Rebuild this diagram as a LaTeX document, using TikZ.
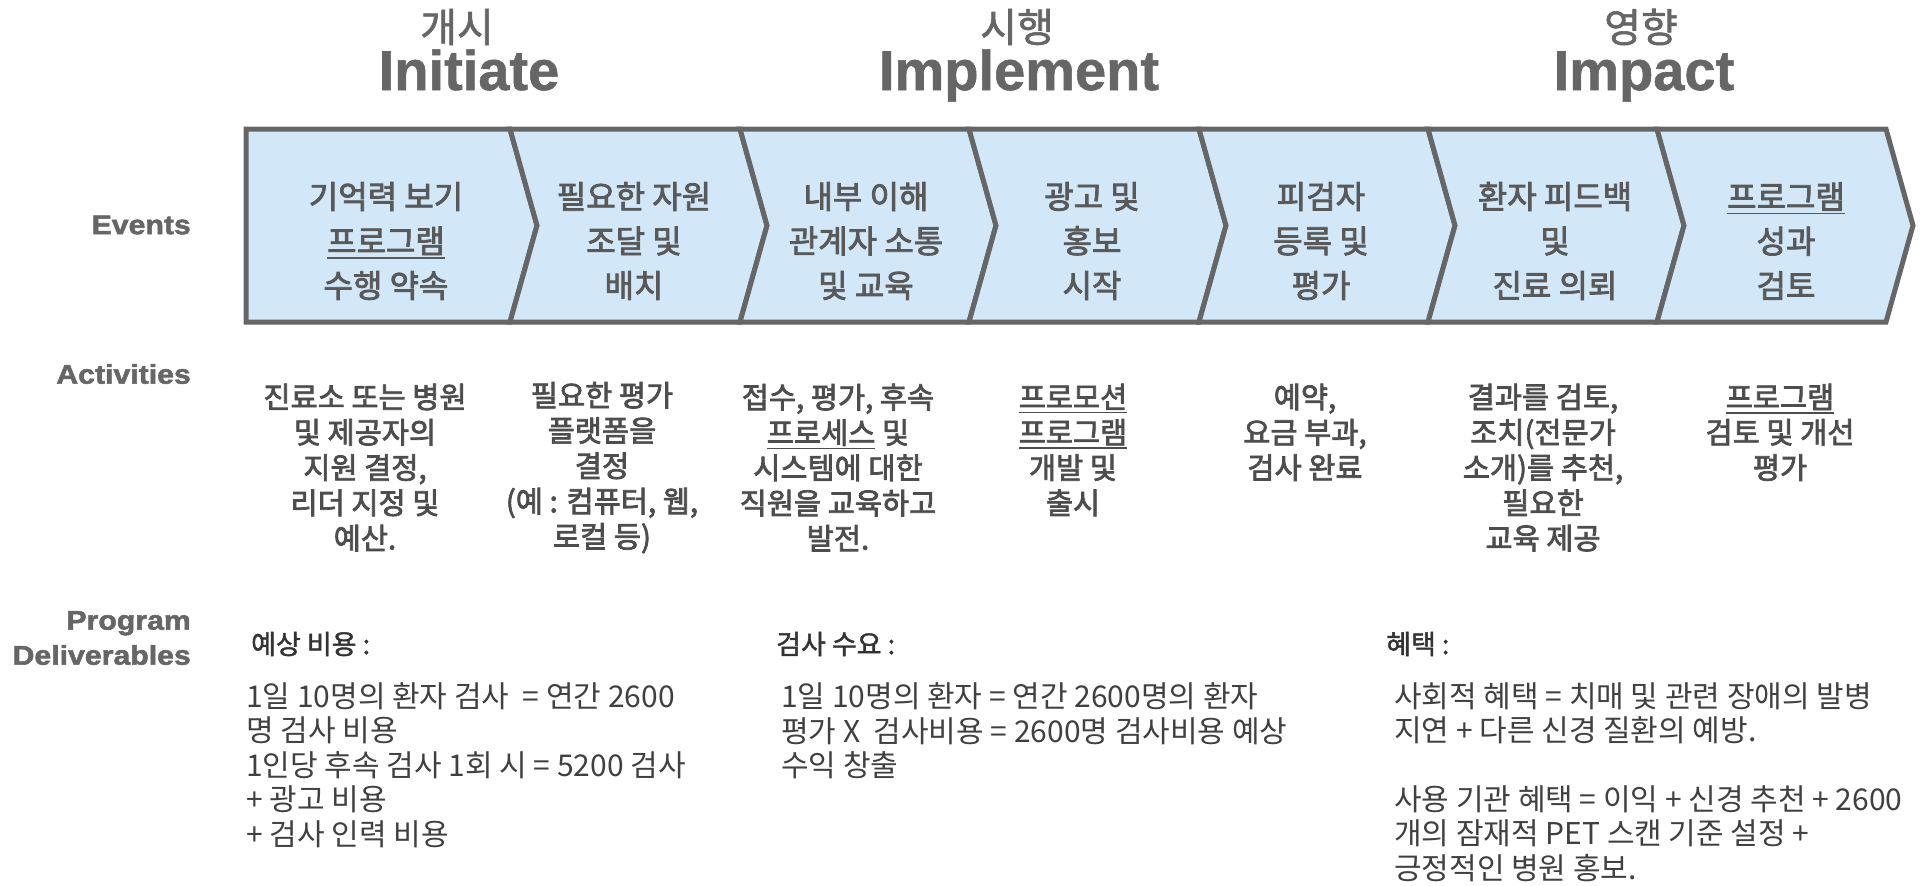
\documentclass[tikz,border=0pt]{standalone}
\usepackage{fontspec}
\setmainfont{Liberation Sans}
\newfontfamily\kr{Noto Sans CJK KR}
\newfontfamily\krsb{Noto Sans CJK KR}[FakeBold=2.5]
\newfontfamily\krmd{Noto Sans CJK KR}[FakeBold=1.5]
\newfontfamily\ttlfont{Liberation Sans Bold}[FakeBold=1]
\newfontfamily\labfont{Liberation Sans Bold}[FakeStretch=1.12,FakeBold=2]
\definecolor{grayline}{RGB}{102,102,102}
\definecolor{chevfill}{RGB}{210,232,248}
\definecolor{chevtext}{RGB}{89,89,89}
\definecolor{acttext}{RGB}{77,77,77}
\definecolor{deltext}{RGB}{64,64,64}
\definecolor{delhead}{RGB}{51,51,51}
\newcommand\kul[1]{\leavevmode\vtop{\hbox{#1}\kern2pt\hrule height 1.6pt}}
\begin{document}
\begin{tikzpicture}[x=1pt,y=-1pt,
  chev/.style={fill=chevfill, draw=grayline, line width=5pt, line join=miter},
  evtxt/.style={align=center, text=chevtext, font=\krsb\fontsize{32}{44.5}\selectfont, inner sep=0pt},
  acttxt/.style={align=center, text=acttext, font=\krsb\fontsize{29.5}{35.3}\selectfont, inner sep=0pt},
  deltxt/.style={align=left, anchor=west, text=deltext, font=\kr\fontsize{30}{34.4}\selectfont, inner sep=0pt},
  delhd/.style={anchor=west, text=delhead, font=\krmd\fontsize{27}{30}\selectfont, inner sep=0pt},
  lab/.style={anchor=east, align=right, text=grayline, font=\labfont\fontsize{27}{35}\selectfont, inner sep=0pt},
  phasetitle/.style={anchor=base, text=grayline, font=\ttlfont\fontsize{56}{60}\selectfont, inner sep=0pt},
  phasekr/.style={text=grayline, font=\krmd\fontsize{40}{44}\selectfont, inner sep=0pt}]
\useasboundingbox (0,0) rectangle (1922,886);

% phase titles
\node[phasekr] (k1) at (457,27) {개시};
\node[phasetitle] (t1) at (469,90) {Initiate};
\node[phasekr] (k2) at (1017,27) {시행};
\node[phasetitle] (t2) at (1019,90) {Implement};
\node[phasekr] (k3) at (1641,27) {영향};
\node[phasetitle] (t3) at (1644,90) {Impact};

% row labels
\node[lab] (lev) at (191,225) {Events};
\node[lab] (lact) at (191,374) {Activities};
\node[lab] (ldel) at (191,638) {Program\\Deliverables};

% chevrons
\path[chev] (246,129) -- (510,129) -- (537,225.5) -- (510,322) -- (246,322) -- cycle;
\path[chev] (510,129) -- (740,129) -- (767,225.5) -- (740,322) -- (510,322) -- (537,225.5) -- cycle;
\path[chev] (740,129) -- (969,129) -- (996,225.5) -- (969,322) -- (740,322) -- (767,225.5) -- cycle;
\path[chev] (969,129) -- (1199,129) -- (1226,225.5) -- (1199,322) -- (969,322) -- (996,225.5) -- cycle;
\path[chev] (1199,129) -- (1428,129) -- (1455,225.5) -- (1428,322) -- (1199,322) -- (1226,225.5) -- cycle;
\path[chev] (1428,129) -- (1657,129) -- (1684,225.5) -- (1657,322) -- (1428,322) -- (1455,225.5) -- cycle;
\path[chev] (1657,129) -- (1886,129) -- (1913,225.5) -- (1886,322) -- (1657,322) -- (1684,225.5) -- cycle;

% event texts
\node[evtxt] (e1) at (386,241) {기억력 보기\\\kul{프로그램}\\수행 약속};
\node[evtxt] (e2) at (634,241) {필요한 자원\\조달 및\\배치};
\node[evtxt] (e3) at (866,241) {내부 이해\\관계자 소통\\및 교육};
\node[evtxt] (e4) at (1092,241) {광고 및\\홍보\\시작};
\node[evtxt] (e5) at (1321,241) {피검자\\등록 및\\평가};
\node[evtxt] (e6) at (1555,241) {환자 피드백\\및\\진료 의뢰};
\node[evtxt] (e7) at (1786,241) {\kul{프로그램}\\성과\\검토};

% activities
\node[acttxt] (a1) at (365,467.6) {진료소 또는 병원\\및 제공자의\\지원 결정,\\리더 지정 및\\예산.};
\node[acttxt] (a2) at (602,467.6) {필요한 평가\\플랫폼을\\결정\\(예 : 컴퓨터, 웹,\\로컬 등)};
\node[acttxt] (a3) at (838,467.6) {접수, 평가, 후속\\\kul{프로세스} 및\\시스템에 대한\\직원을 교육하고\\발전.};
\node[acttxt] (a4) at (1073,450) {\kul{프로모션}\\\kul{프로그램}\\개발 및\\출시};
\node[acttxt] (a5) at (1305,432.3) {예약,\\요금 부과,\\검사 완료};
\node[acttxt] (a6) at (1543,467.6) {결과를 검토,\\조치(전문가\\소개)를 추천,\\필요한\\교육 제공};
\node[acttxt] (a7) at (1780,432.3) {\kul{프로그램}\\검토 및 개선\\평가};

% deliverables
\node[delhd] (h1) at (251,644) {예상 비용 :};
\node[deltxt] (d1) at (246,765) {1일 10명의 환자 검사~ = 연간 2600\\명 검사 비용\\1인당 후속 검사 1회 시 = 5200 검사\\+ 광고 비용\\+ 검사 인력 비용};
\node[delhd] (h2) at (776,644) {검사 수요 :};
\node[deltxt] (d2) at (781,731) {1일 10명의 환자 = 연간 2600명의 환자\\평가 X~ 검사비용 = 2600명 검사비용 예상\\수익 창출};
\node[delhd] (h3) at (1386,644) {혜택 :};
\node[deltxt] (d3) at (1394,782) {사회적 혜택 = 치매 및 관련 장애의 발병\\지연 + 다른 신경 질환의 예방.\\[34.4pt]사용 기관 혜택 = 이익 + 신경 추천 + 2600\\개의 잠재적 PET 스캔 기준 설정 +\\긍정적인 병원 홍보.};
\end{tikzpicture}
\end{document}
